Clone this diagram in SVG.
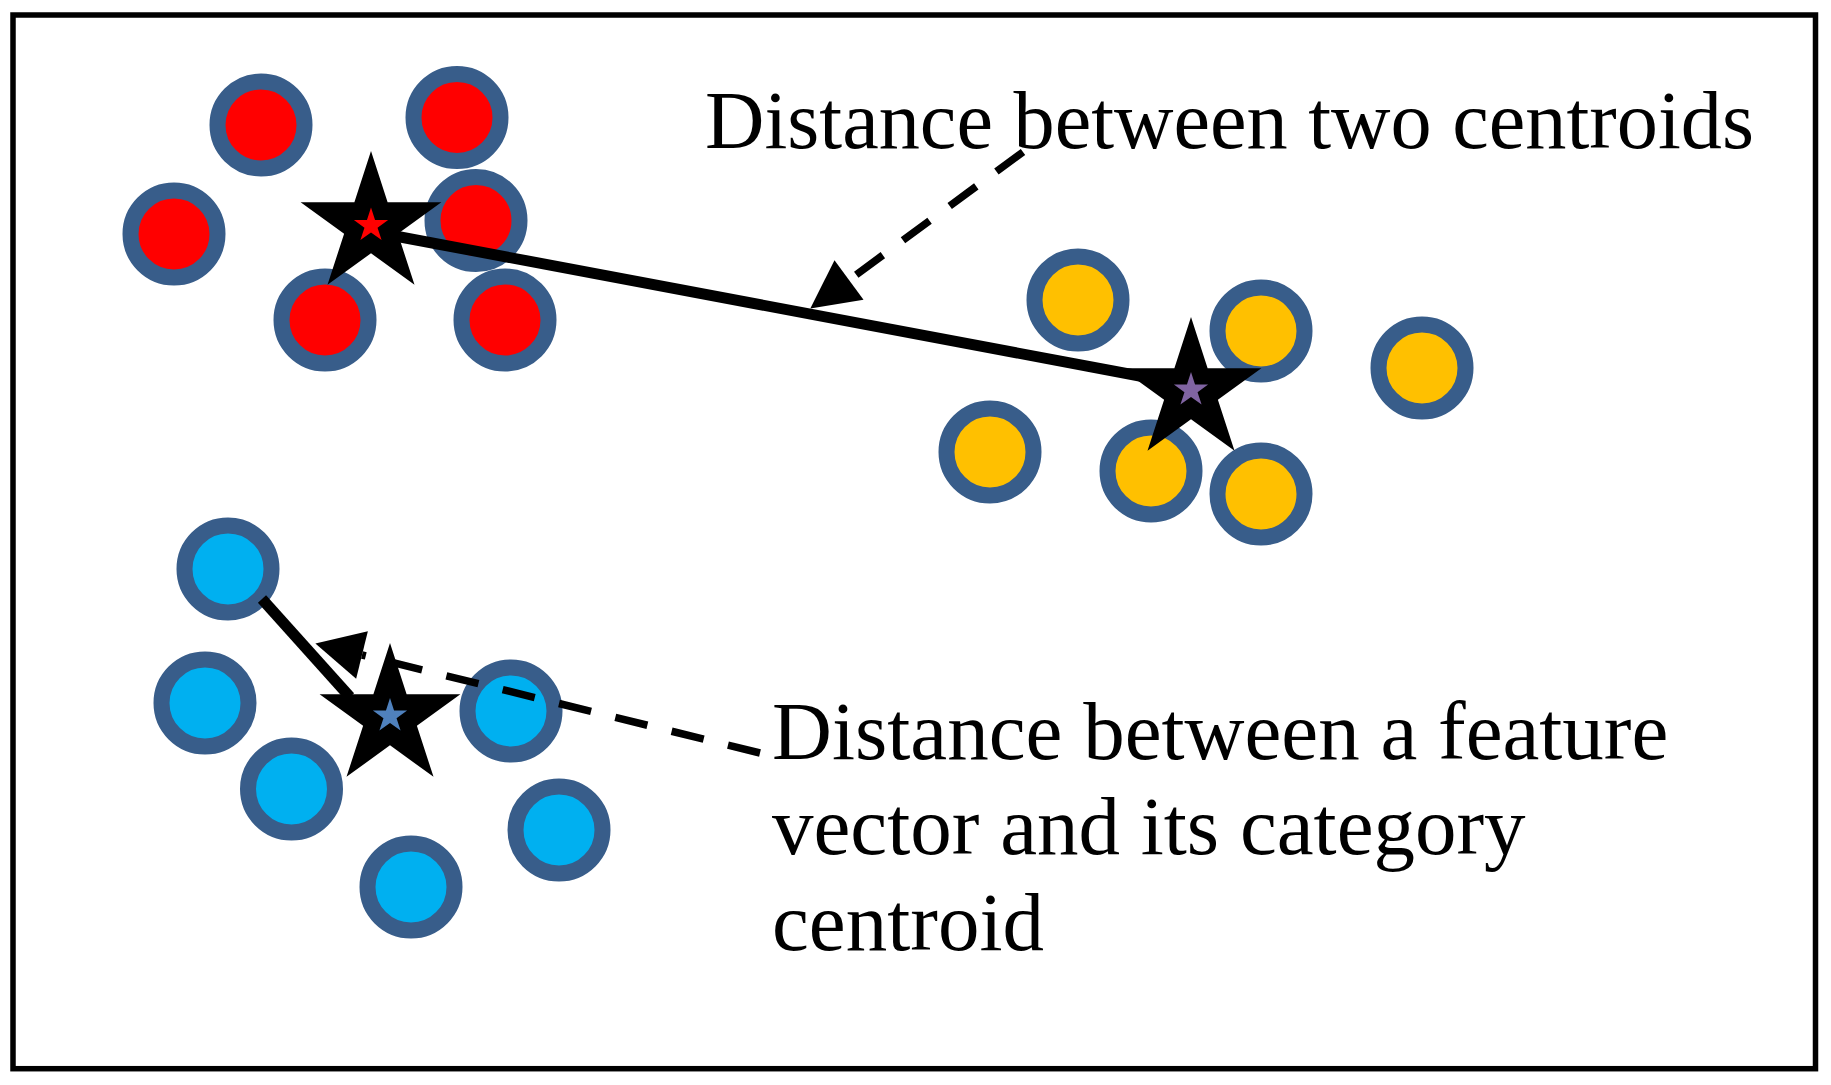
<svg xmlns="http://www.w3.org/2000/svg" width="1831" height="1085" viewBox="0 0 1831 1085">
<style>
.pt{stroke:#385D8A;stroke-width:16}
.red{fill:#FF0000}
.yel{fill:#FFC000}
.cyan{fill:#00B0F0}
.solid{stroke:#000;stroke-width:11;fill:none}
.dash{stroke:#000;stroke-width:7.5;fill:none;stroke-dasharray:33 25}
.lbl{font-family:"Liberation Serif","Times New Roman",serif;fill:#000}
</style>
<defs>
<path id="bigstar" d="M0,-74 L16.62,-22.87 L70.38,-22.87 L26.89,8.74 L43.5,59.87 L0,28.27 L-43.5,59.87 L-26.89,8.74 L-70.38,-22.87 L-16.62,-22.87 Z" fill="#000"/>
<path id="smallstar" d="M0,-18 L4.04,-5.57 L17.12,-5.56 L6.54,2.13 L10.58,14.56 L0,6.88 L-10.58,14.56 L-6.54,2.13 L-17.12,-5.56 L-4.04,-5.57 Z"/>
<marker id="arr" markerUnits="userSpaceOnUse" markerWidth="49" markerHeight="50" refX="0" refY="24.5" orient="auto" overflow="visible">
<path d="M0,0 L48,24.5 L0,49 Z" fill="#000"/>
</marker>
</defs>
<rect x="0" y="0" width="1831" height="1085" fill="#fff"/>
<rect id="frame" x="13" y="15" width="1802.5" height="1053.7" fill="none" stroke="#000" stroke-width="5.5"/>

<g id="cluster-red">
<circle class="pt red" cx="261" cy="125" r="43.5"/>
<circle class="pt red" cx="457" cy="117.5" r="43.5"/>
<circle class="pt red" cx="174" cy="234" r="43.5"/>
<circle class="pt red" cx="476" cy="220.5" r="43.5"/>
<circle class="pt red" cx="325" cy="320" r="43.5"/>
<circle class="pt red" cx="505" cy="320" r="43.5"/>
</g>
<g id="cluster-yellow">
<circle class="pt yel" cx="1078" cy="300" r="43.5"/>
<circle class="pt yel" cx="1261" cy="331" r="43.5"/>
<circle class="pt yel" cx="1422" cy="368" r="43.5"/>
<circle class="pt yel" cx="990" cy="452" r="43.5"/>
<circle class="pt yel" cx="1151" cy="471" r="43.5"/>
<circle class="pt yel" cx="1261" cy="494" r="43.5"/>
</g>
<g id="cluster-blue">
<circle class="pt cyan" cx="228" cy="569" r="43.5"/>
<circle class="pt cyan" cx="205" cy="703" r="43.5"/>
<circle class="pt cyan" cx="291.5" cy="789" r="43.5"/>
<circle class="pt cyan" cx="511" cy="711" r="43.5"/>
<circle class="pt cyan" cx="559" cy="830" r="43.5"/>
<circle class="pt cyan" cx="411" cy="887" r="43.5"/>
</g>

<g id="connectors">
<line class="solid" x1="395" y1="236" x2="1145" y2="377"/>
<line class="solid" x1="262" y1="599" x2="350" y2="697"/>
<line class="dash" x1="1023" y1="152" x2="849" y2="280" marker-end="url(#arr)"/>
<line class="dash" x1="760" y1="753" x2="362" y2="655" marker-end="url(#arr)"/>
</g>

<g id="centroid-red">
<use href="#bigstar" transform="translate(371,225)"/>
<use href="#smallstar" transform="translate(371,225.5)" fill="#FF0000"/>
</g>
<g id="centroid-yellow">
<use href="#bigstar" transform="translate(1191,391)"/>
<use href="#smallstar" transform="translate(1191,390)" fill="#8064A2"/>
</g>
<g id="centroid-blue">
<use href="#bigstar" transform="translate(390,717)"/>
<use href="#smallstar" transform="translate(390,716)" fill="#4F81BD"/>
</g>

<g id="label-centroids">
<text class="lbl" x="705" y="147.5" font-size="82.3">Distance between two centroids</text>
</g>
<g id="label-feature">
<text class="lbl" font-size="83">
<tspan x="772" y="759">Distance between a feature</tspan>
<tspan x="772" y="854">vector and its category</tspan>
<tspan x="772" y="950">centroid</tspan>
</text>
</g>
</svg>
